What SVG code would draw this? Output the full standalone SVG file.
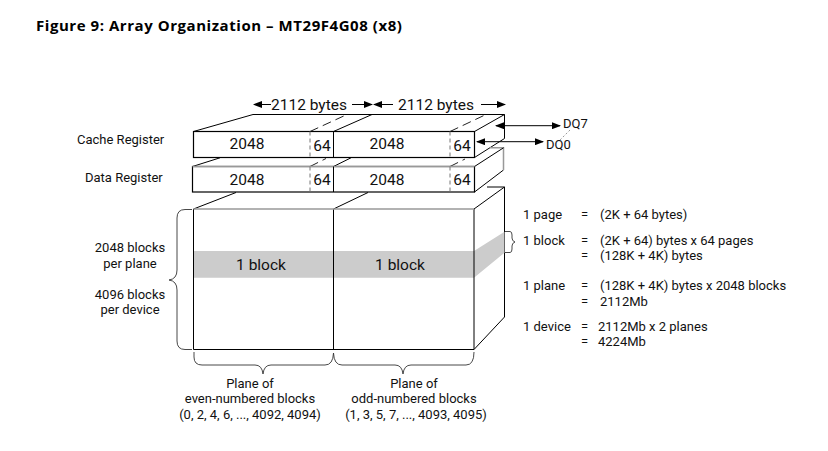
<svg xmlns="http://www.w3.org/2000/svg" width="828" height="451" viewBox="0 0 828 451">
<style>
text{font-family:Roboto,"Open Sans","Liberation Sans",sans-serif;font-size:13px;fill:#111}
.t{font-family:"Open Sans","Liberation Sans",sans-serif;font-size:15px;font-weight:700;fill:#000;letter-spacing:.55px}
.n{font-size:15.500px}
.m{text-anchor:middle}
.l{fill:none;stroke:#000;stroke-width:1}
.w{fill:#fff;stroke:#000;stroke-width:1.2}
.g{fill:none;stroke:#999;stroke-width:1.5}
.d{fill:none;stroke:#777;stroke-width:1;stroke-dasharray:4 3}
.e{fill:none;stroke:#222;stroke-width:1;stroke-dasharray:9 5}
.b{fill:none;stroke:#333;stroke-width:.9}
.a{fill:none;stroke:#000;stroke-width:1;marker-end:url(#ah)}
.a2{fill:none;stroke:#000;stroke-width:1;marker-start:url(#ah);marker-end:url(#ah)}
</style>
<defs><marker id="ah" markerWidth="9" markerHeight="7" refX="8" refY="3.5" orient="auto-start-reverse" markerUnits="userSpaceOnUse"><path d="M0 0L9 3.500L0 7Z" fill="#000"/></marker></defs>
<rect width="828" height="451" fill="#fff"/>
<text id="title" class="t" x="36" y="31">Figure 9: Array Organization – MT29F4G08 (x8)</text>
<g id="cache-register">
<path class="l" d="M193.500 131.500L253 114.500H504.500V138.500L474.500 157.500M474.500 131.500L504.500 114.500M333.500 131.500L372 114.500"/>
<path class="e" d="M310 131.500L347 114.500M450 131.500L486 114.500"/>
<rect class="w" x="193.500" y="131.500" width="281" height="26"/>
<path class="l" d="M333.500 131.500V157.500"/>
<path class="d" d="M310 131.500V157.500M450 131.500V157.500"/>
<text x="77" y="144">Cache Register</text>
<text class="n m" x="247" y="149">2048</text><text class="n m" x="322" y="151">64</text>
<text class="n m" x="387" y="149">2048</text><text class="n m" x="462" y="151">64</text>
</g>
<g id="data-register">
<path class="l" d="M192.500 166.500L220 157.800M333.500 166.500L351 157.800M474.500 192L503.500 170"/>
<path class="e" d="M310 166.500L326 158.500M450 166.500L465 159"/>
<path class="g" d="M490 147.800H503.500V170"/>
<path class="l" d="M474.500 166.500L503.500 147.800"/>
<rect class="w" x="192.500" y="166.500" width="282" height="25.500"/>
<path class="g" d="M192.500 166.500H474.500"/>
<path class="l" d="M333.500 166.500V192"/>
<path class="d" d="M310 166.500V192M450 166.500V192"/>
<text x="85" y="182">Data Register</text>
<text class="n m" x="247" y="185">2048</text><text class="n m" x="322" y="185">64</text>
<text class="n m" x="387" y="185">2048</text><text class="n m" x="462" y="185">64</text>
</g>
<g id="array">
<path class="l" d="M193.500 209L236 192.500M333.500 209L368 192.500M474 209L504.500 187H487M504.500 187V317L474 349.500"/>
<path d="M193 251H474L504.500 231.700V252.700L474 277.700H193Z" fill="#ccc"/>
<path class="l" d="M193.500 209V349.500H474V209"/>
<path class="l" d="M333.500 209V349.500"/>
<path class="g" d="M193.500 209H474"/>
<text class="n m" x="261" y="270">1 block</text>
<text class="n m" x="400" y="270">1 block</text>
</g>
<g id="connectors">
<path class="a" d="M271 104.500H254"/>
<path class="a" d="M352 104.500H372"/>
<path class="a" d="M393 104.500H374"/>
<path class="a" d="M481 104.500H505"/>
<path class="a2" d="M496 125.700H560"/>
<path class="a2" d="M477 141.700H543"/>
<path d="M570 130L560 140" fill="none" stroke="#999" stroke-width="1" stroke-dasharray="2 2"/>
</g>
<g id="braces">
<path class="b" d="M192 209.500H185Q177 209.500 177 218V270Q177 279 169 280Q177 281 177 290V341Q177 349.500 185 349.500H192"/>
<path class="b" d="M194 352V357Q194 365 202 365H255Q262 365 263 374Q264 365 271 365H325Q333 365 333.500 353Q334 365 342 365H395Q402 365 403 374Q404 365 411 365H466Q474 365 474 352"/>
<path class="b" d="M505 231.500H510Q512 231.500 512 235V238Q512 241 515 242Q512 243 512 246V249Q512 252.500 510 252.500H505"/>
</g>
<g id="labels">
<text class="m" x="130" y="252">2048 blocks</text>
<text class="m" x="130" y="268">per plane</text>
<text class="m" x="130" y="299">4096 blocks</text>
<text class="m" x="130" y="314">per device</text>
<text class="n" x="271" y="109.500">2112 bytes</text>
<text class="n" x="398" y="109.500">2112 bytes</text>
<text x="563" y="128">DQ7</text>
<text x="546" y="149">DQ0</text>
<text class="m" x="250" y="388">Plane of</text>
<text class="m" x="250" y="403">even-numbered blocks</text>
<text class="m" x="250" y="419">(0, 2, 4, 6, ..., 4092, 4094)</text>
<text class="m" x="414" y="388">Plane of</text>
<text class="m" x="414" y="403">odd-numbered blocks</text>
<text class="m" x="416" y="419">(1, 3, 5, 7, ..., 4093, 4095)</text>
</g>
<g id="equations">
<text x="523" y="219">1 page</text><text x="581" y="219">=</text><text x="600" y="219">(2K + 64 bytes)</text>
<text x="523" y="245">1 block</text><text x="581" y="245">=</text><text x="600" y="245">(2K + 64) bytes x 64 pages</text>
<text x="581" y="260">=</text><text x="600" y="260">(128K + 4K) bytes</text>
<text x="523" y="290">1 plane</text><text x="581" y="290">=</text><text x="600" y="290">(128K + 4K) bytes x 2048 blocks</text>
<text x="581" y="306">=</text><text x="600" y="306">2112Mb</text>
<text x="523" y="331">1 device</text><text x="581" y="331">=</text><text x="598" y="331">2112Mb x 2 planes</text>
<text x="581" y="346">=</text><text x="598" y="346">4224Mb</text>
</g>
</svg>
